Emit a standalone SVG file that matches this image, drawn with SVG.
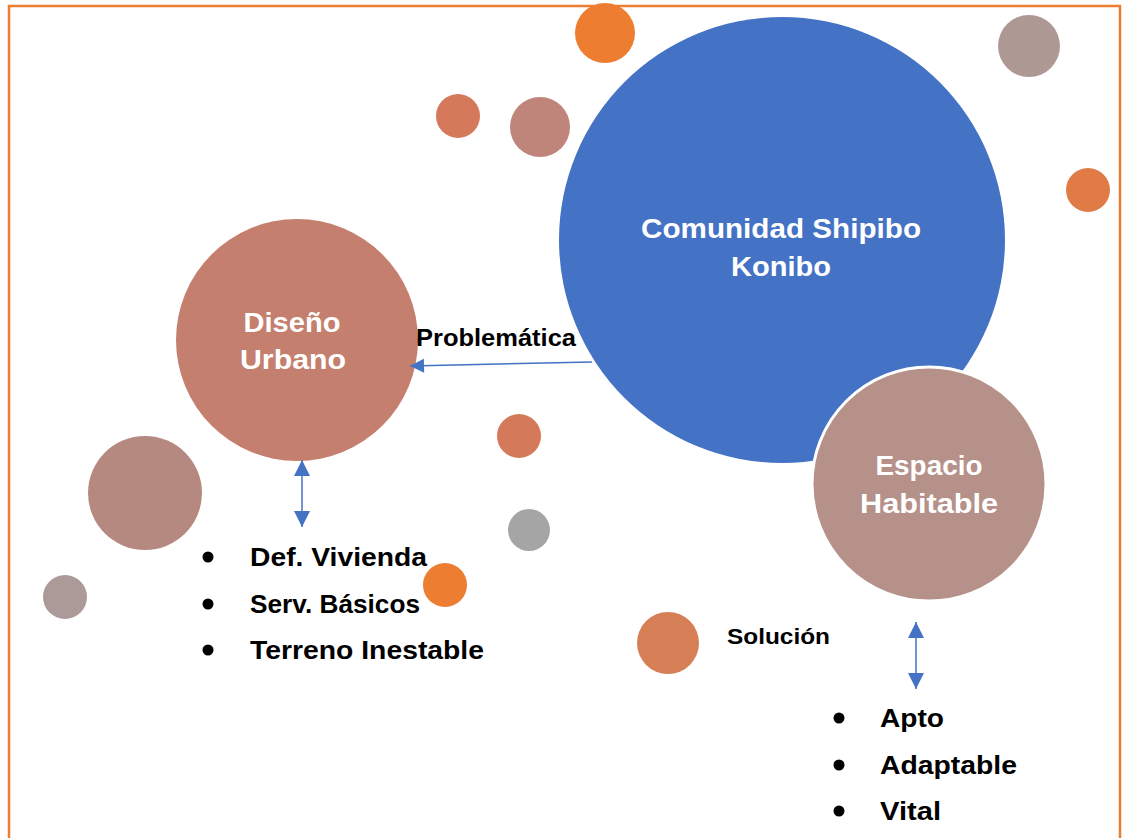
<svg xmlns="http://www.w3.org/2000/svg" width="1123" height="838" viewBox="0 0 1123 838">
<defs>
<style>
.t{font-family:"Liberation Sans","Open Sans",Arial,sans-serif;font-weight:bold}
.w{fill:#ffffff;text-anchor:middle;font-size:28px}
.b{fill:#000000}
.c{stroke:#4472C4;stroke-width:1.5;fill:none}
</style>
<marker id="ah" viewBox="0 0 10 10" refX="10" refY="5" markerWidth="15" markerHeight="14" markerUnits="userSpaceOnUse" orient="auto-start-reverse">
<path d="M0,0 L10,5 L0,10 z" fill="#4472C4"/>
</marker>
<marker id="ah2" viewBox="0 0 10 10" refX="10" refY="5" markerWidth="16" markerHeight="16" markerUnits="userSpaceOnUse" orient="auto-start-reverse">
<path d="M0,0 L10,5 L0,10 z" fill="#4472C4"/>
</marker>
</defs>
<rect width="1123" height="838" fill="#ffffff"/>
<path d="M9,845 L9,6 L1120,6 L1120,845" fill="none" stroke="#ED7D31" stroke-width="2.5"/>

<g id="decor">
<circle cx="605" cy="33" r="30" fill="#ED7D31"/>
<circle cx="458" cy="116" r="22" fill="#D47A5A"/>
<circle cx="540" cy="127" r="30" fill="#C0857A"/>
<circle cx="1029" cy="46" r="31" fill="#AE9894"/>
<circle cx="1088" cy="190" r="22" fill="#E07B45"/>
<circle cx="519" cy="436" r="22" fill="#D47A5A"/>
<circle cx="529" cy="530" r="21" fill="#A5A5A5"/>
<circle cx="145" cy="493" r="57" fill="#B5897F"/>
<circle cx="65" cy="597" r="22" fill="#AC9A99"/>
<circle cx="445" cy="585" r="22" fill="#EC7D31"/>
<circle cx="668" cy="643" r="31" fill="#D67E56"/>
</g>

<g id="comunidad">
<circle cx="782" cy="240" r="223" fill="#4472C4"/>
<text class="t w" x="781" y="238" textLength="280" lengthAdjust="spacingAndGlyphs">Comunidad Shipibo</text>
<text class="t w" x="781" y="276" textLength="100" lengthAdjust="spacingAndGlyphs">Konibo</text>
</g>

<g id="espacio">
<circle cx="929" cy="484" r="117" fill="#B59189" stroke="#ffffff" stroke-width="3"/>
<text class="t w" x="929" y="475" textLength="107" lengthAdjust="spacingAndGlyphs">Espacio</text>
<text class="t w" x="929" y="513" textLength="138" lengthAdjust="spacingAndGlyphs">Habitable</text>
</g>

<g id="diseno">
<circle cx="297" cy="340" r="121" fill="#C47F6E"/>
<text class="t w" x="292" y="332" textLength="97" lengthAdjust="spacingAndGlyphs">Diseño</text>
<text class="t w" x="293" y="369" textLength="106" lengthAdjust="spacingAndGlyphs">Urbano</text>
</g>

<g id="connectors">
<line class="c" x1="592" y1="362" x2="410" y2="366" marker-end="url(#ah)"/>
<line class="c" x1="302" y1="460" x2="302" y2="527" marker-start="url(#ah2)" marker-end="url(#ah2)"/>
<line class="c" x1="916" y1="622" x2="916" y2="689" marker-start="url(#ah2)" marker-end="url(#ah2)"/>
</g>

<g id="labels">
<text class="t b" x="416" y="346" font-size="23" textLength="160" lengthAdjust="spacingAndGlyphs">Problemática</text>
<text class="t b" x="727" y="644" font-size="22" textLength="103" lengthAdjust="spacingAndGlyphs">Solución</text>
</g>

<g id="lista1" class="t b" font-size="26">
<circle cx="208" cy="557" r="5.5" fill="#000"/>
<circle cx="208" cy="604" r="5.5" fill="#000"/>
<circle cx="208" cy="650" r="5.5" fill="#000"/>
<text x="250" y="566" textLength="177" lengthAdjust="spacingAndGlyphs">Def. Vivienda</text>
<text x="250" y="613" textLength="170" lengthAdjust="spacingAndGlyphs">Serv. Básicos</text>
<text x="250" y="659" textLength="234" lengthAdjust="spacingAndGlyphs">Terreno Inestable</text>
</g>

<g id="lista2" class="t b" font-size="26">
<circle cx="839" cy="718" r="5.5" fill="#000"/>
<circle cx="839" cy="765" r="5.5" fill="#000"/>
<circle cx="839" cy="811" r="5.5" fill="#000"/>
<text x="880" y="727" textLength="64" lengthAdjust="spacingAndGlyphs">Apto</text>
<text x="880" y="774" textLength="137" lengthAdjust="spacingAndGlyphs">Adaptable</text>
<text x="880" y="820" textLength="61" lengthAdjust="spacingAndGlyphs">Vital</text>
</g>
</svg>
